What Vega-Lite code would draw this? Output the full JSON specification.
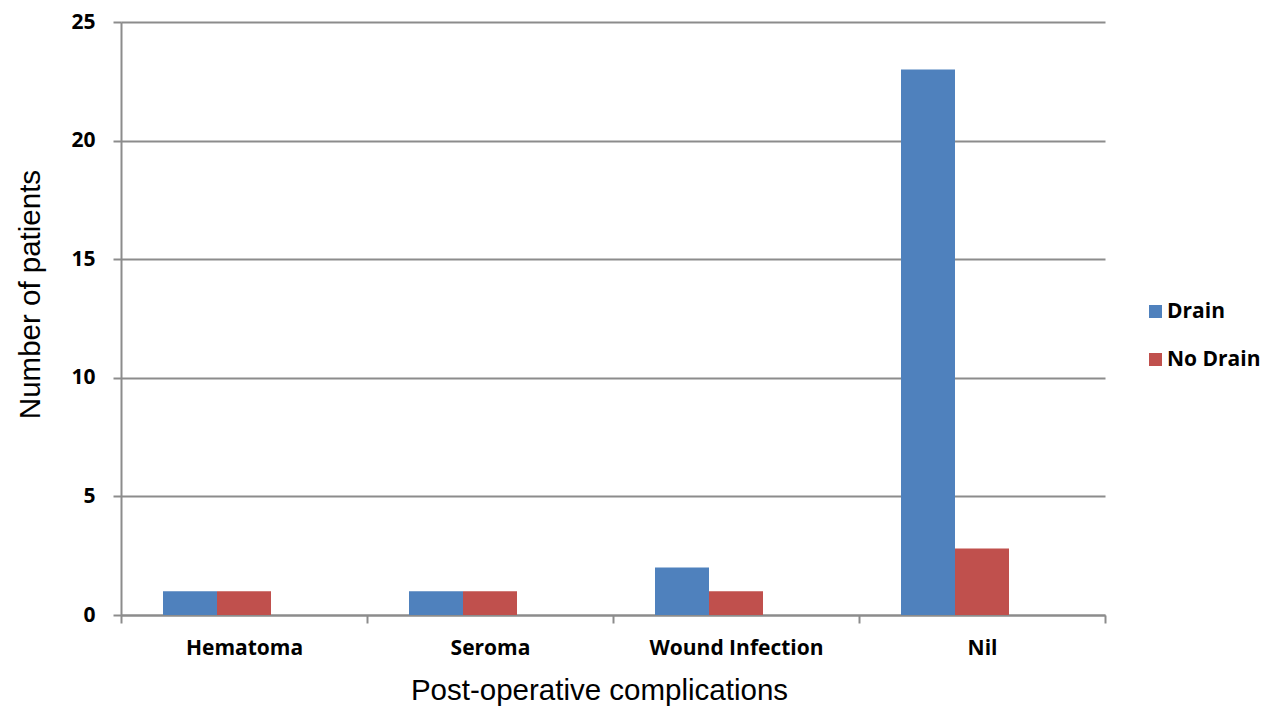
{
  "$schema": "https://vega.github.io/schema/vega-lite/v6.json",
  "autosize": "none",
  "width": 984,
  "height": 593,
  "padding": {"left": 121, "top": 22, "right": 166, "bottom": 92},
  "background": "white",
  "data": {
    "values": [
      {"complication": "Hematoma", "group": "Drain", "patients": 1},
      {"complication": "Hematoma", "group": "No Drain", "patients": 1},
      {"complication": "Seroma", "group": "Drain", "patients": 1},
      {"complication": "Seroma", "group": "No Drain", "patients": 1},
      {"complication": "Wound Infection", "group": "Drain", "patients": 2},
      {"complication": "Wound Infection", "group": "No Drain", "patients": 1},
      {"complication": "Nil", "group": "Drain", "patients": 23},
      {"complication": "Nil", "group": "No Drain", "patients": 2.8}
    ]
  },
  "config": {
    "view": {"stroke": null},
    "axis": {"gridColor": "#8c8c8c", "gridWidth": 2, "domainColor": "#8c8c8c", "domainWidth": 2, "tickColor": "#8c8c8c", "tickWidth": 2}
  },
  "mark": {"type": "bar"},
  "encoding": {
    "x": {
      "field": "complication",
      "type": "nominal",
      "sort": ["Hematoma", "Seroma", "Wound Infection", "Nil"],
      "scale": {"paddingInner": 0, "paddingOuter": 0},
      "axis": {
        "title": "Post-operative complications",
        "titleFont": "Liberation Sans",
        "titleFontSize": 29.5,
        "titleFontWeight": "normal",
        "titleColor": "black",
        "titleX": 478,
        "titleY": 75,
        "titleBaseline": "middle",
        "labelAngle": 0,
        "labelFont": "Open Sans",
        "labelFontSize": 21,
        "labelFontWeight": "bold",
        "labelColor": "black",
        "labelPadding": 14,
        "labelBaseline": "top",
        "tickBand": "extent",
        "tickSize": 8,
        "grid": false
      }
    },
    "xOffset": {
      "field": "group",
      "type": "nominal",
      "scale": {"domain": ["Drain", "No Drain", "_"], "paddingInner": 0, "paddingOuter": 0.7778}
    },
    "y": {
      "field": "patients",
      "type": "quantitative",
      "scale": {"domain": [0, 25]},
      "axis": {
        "title": "Number of patients",
        "titleFont": "Liberation Sans",
        "titleFontSize": 29.5,
        "titleFontWeight": "normal",
        "titleColor": "black",
        "titleAngle": -90,
        "titleX": -91,
        "titleY": 272,
        "titleAlign": "center",
        "titleBaseline": "middle",
        "values": [0, 5, 10, 15, 20, 25],
        "labelFont": "Open Sans",
        "labelFontSize": 21,
        "labelFontWeight": "bold",
        "labelColor": "black",
        "labelPadding": 18,
        "tickSize": 8
      }
    },
    "color": {
      "field": "group",
      "type": "nominal",
      "scale": {"domain": ["Drain", "No Drain"], "range": ["#4F81BD", "#C0504D"]},
      "legend": {
        "title": null,
        "orient": "none",
        "legendX": 1024,
        "legendY": 279,
        "symbolType": "square",
        "symbolSize": 170,
        "symbolStrokeWidth": 0,
        "rowPadding": 26,
        "labelFont": "Open Sans",
        "labelFontSize": 21,
        "labelFontWeight": "bold",
        "labelColor": "black",
        "labelOffset": 1
      }
    }
  }
}
